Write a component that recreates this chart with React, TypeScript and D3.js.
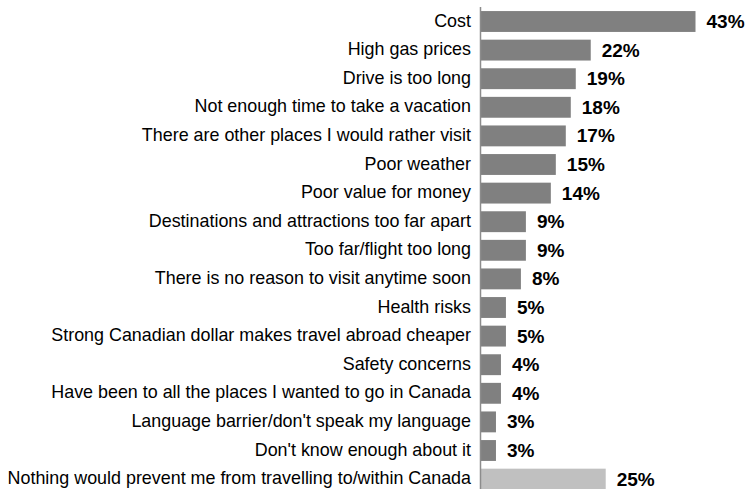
import React, { useEffect, useRef } from 'react';
import * as d3 from 'd3';

const categories = [
  'Cost',
  'High gas prices',
  'Drive is too long',
  'Not enough time to take a vacation',
  'There are other places I would rather visit',
  'Poor weather',
  'Poor value for money',
  'Destinations and attractions too far apart',
  'Too far/flight too long',
  'There is no reason to visit anytime soon',
  'Health risks',
  'Strong Canadian dollar makes travel abroad cheaper',
  'Safety concerns',
  'Have been to all the places I wanted to go in Canada',
  "Language barrier/don't speak my language",
  "Don't know enough about it",
  'Nothing would prevent me from travelling to/within Canada',
];
const values = [43, 22, 19, 18, 17, 15, 14, 9, 9, 8, 5, 5, 4, 4, 3, 3, 25];
const highlighted = ['Nothing would prevent me from travelling to/within Canada'];

const App: React.FC = () => {
  const svgRef = useRef<SVGSVGElement>(null);

  useEffect(() => {
    if (!svgRef.current) return;
    const width = 748;
    const height = 489;
    const x0 = 481;

    const svg = d3.select(svgRef.current);
    svg.selectAll('*').remove();

    const x = d3.scaleLinear().domain([0, 43]).range([x0, 695.5]);
    const y = d3.scaleBand<string>()
      .domain(categories)
      .range([7.2, 7.2 + 17 * 28.6])
      .paddingInner(0.27)
      .paddingOuter(0.135);

    const data = categories.map((c, i) => ({ c, v: values[i] }));

    svg.append('g')
      .selectAll('rect')
      .data(data)
      .enter()
      .append('rect')
      .attr('x', x(0))
      .attr('y', d => y(d.c)!)
      .attr('width', d => x(d.v) - x(0))
      .attr('height', y.bandwidth())
      .attr('fill', d => highlighted.includes(d.c) ? '#c0c0c0' : '#808080');

    svg.append('line')
      .attr('x1', x0 - 0.5).attr('x2', x0 - 0.5)
      .attr('y1', 7).attr('y2', height)
      .attr('stroke', '#8c8c8c')
      .attr('stroke-width', 1.5);

    svg.append('g')
      .selectAll('text')
      .data(data)
      .enter()
      .append('text')
      .attr('x', 471)
      .attr('y', d => y(d.c)! + y.bandwidth() / 2 - 1)
      .attr('text-anchor', 'end')
      .attr('dominant-baseline', 'central')
      .attr('font-family', 'Liberation Sans, Arial, sans-serif')
      .attr('font-size', '17.9px')
      .attr('fill', '#000')
      .text(d => d.c);

    svg.append('g')
      .selectAll('text')
      .data(data)
      .enter()
      .append('text')
      .attr('x', d => x(d.v) + 11)
      .attr('y', d => y(d.c)! + y.bandwidth() / 2)
      .attr('dominant-baseline', 'central')
      .attr('font-family', 'Liberation Sans, Arial, sans-serif')
      .attr('font-weight', 'bold')
      .attr('font-size', '19px')
      .attr('fill', '#000')
      .text(d => `${d.v}%`);

    svg.attr('width', width).attr('height', height);
  }, []);

  return (
    <div style={{ position: 'absolute', left: 0, top: 0 }}>
      <svg ref={svgRef} width={748} height={489} style={{ display: 'block', background: '#fff' }}></svg>
    </div>
  );
};

export default App;
